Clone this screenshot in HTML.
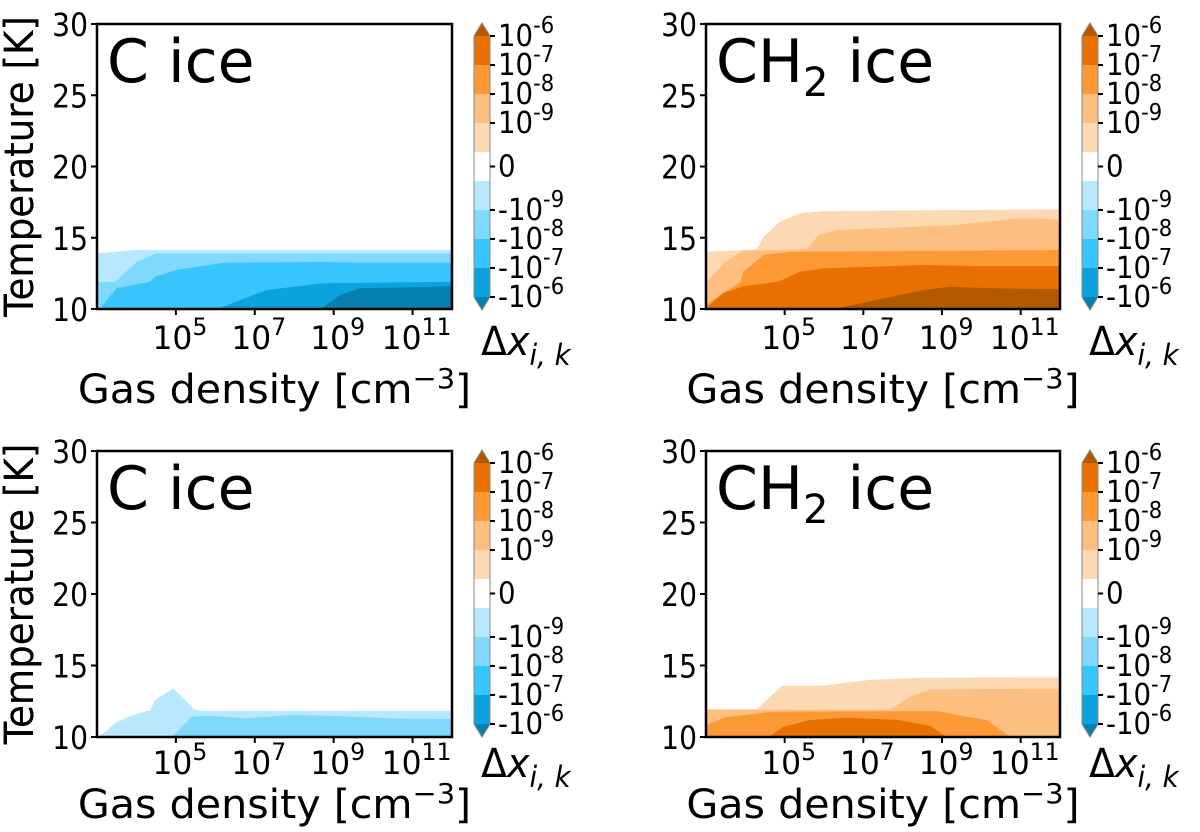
<!DOCTYPE html>
<html><head><meta charset="utf-8"><style>
html,body{margin:0;padding:0;background:#fff;width:1200px;height:832px;overflow:hidden}
svg text{font-family:"DejaVu Sans","Liberation Sans",sans-serif;fill:#000}
</style></head><body>
<svg id="fig" width="1200" height="832" viewBox="0 0 1200 832" xmlns="http://www.w3.org/2000/svg"></svg>
<script>
// Levels/colours (positive orange, negative blue)
const levelColorsPos = ["#fdd9b3","#fdbf7f","#fd9935","#e87000","#b35900"];
const levelColorsNeg = ["#b8e8fd","#80d8fc","#38c4fc","#0aa3e0","#0780b0"];
const xTickExp = [5,7,9,11];
const yTicks = [10,15,20,25,30];
const cbTopLabels = ["-6","-7","-8","-9"];
const cbBotLabels = ["-9","-8","-7","-6"];

// Panel A (top-left, C ice): boundaries (log n, T)
const a1x=[3,4,12], a1T=[13.9,14.15,14.15];
const a2x=[3,3.46,4.0,4.5,12], a2T=[11.9,11.9,13.3,13.9,13.9];
const a3x=[3.08,3.5,4.35,4.47,5.02,6.2,8.74,9.59,12], a3T=[10.05,11.45,11.92,12.27,12.74,13.25,13.3,13.25,13.25];
const a4x=[6.04,7.31,8.74,12], a4T=[10,11.33,11.8,11.9];
const a5x=[8.66,9.17,9.67,12], a5T=[10,10.98,11.45,11.6];
// Panel B (top-right, CH2 ice)
const b1x=[3,4.29,4.46,4.88,5.39,5.98,12], b1T=[14.02,14.19,15.07,16.13,16.71,16.88,17.0];
const b2x=[3,3.48,3.95,5.56,5.86,6.33,9.38,10.9,11.58,12], b2T=[11.8,13.32,14.1,14.19,15.19,15.54,15.9,16.36,16.36,16.25];
const b3x=[3,3.48,3.87,3.95,4.46,5.14,12], b3T=[10.28,11.22,11.85,12.62,13.79,14.02,14.14];
const b4x=[3,3.44,3.95,4.84,5.39,5.98,8.53,9.8,12], b4T=[10.05,11.1,11.6,11.92,12.62,12.85,13.09,13.02,13.02];
const b5x=[6.34,8.53,9.21,10.23,12], b5T=[10.05,11.33,11.57,11.45,11.38];
// Panel C (bottom-left, C ice)
const c1x=[3.05,3.5,3.92,4.35,4.47,4.94,5.44,5.61,12], c1T=[10,11.07,11.54,11.89,12.59,13.4,12.0,11.84,11.84];
const c2x=[4.9,5.4,5.8,6.8,7.9,9.08,10.44,12], c2T=[10,11.42,11.5,11.3,11.54,11.47,11.3,11.26];
// Panel D (bottom-right, CH2 ice)
const d1x=[3,4.29,4.93,5.9,7.17,8.53,12], d1T=[11.94,11.94,13.59,13.59,13.99,14.15,14.18];
const d2x=[3,7.68,8.19,8.7,12], d2T=[11.9,11.9,12.82,13.33,13.38];
const d3x=[3,3.48,4.71,8.87,9.63,10.14,10.73], d3T=[10.84,11.38,11.77,11.82,11.42,11.19,10.02];
const d4x=[4.59,4.97,5.65,6.58,7.85,8.7,9.12], d4T=[10,10.72,11.19,11.35,11.2,10.77,10];

const NS="http://www.w3.org/2000/svg";
const fig=document.getElementById('fig');
function mk(tag,attrs,parent){const e=document.createElementNS(NS,tag);for(const k in attrs)e.setAttribute(k,attrs[k]);(parent||fig).appendChild(e);return e;}
function txt(parent,x,y,size,sx,anchor,html,rot){
 const t=mk('text',{x:0,y:0,'font-size':size,'text-anchor':anchor,transform:`translate(${x},${y})`+(rot?` rotate(${rot})`:'')+` scale(${sx},1)`},parent);
 t.innerHTML=html;return t;
}

const panels=[
 {ox:97,oy:24,w:355,h:285,tk:40,xo:94,dlo:46,title:"C ice",sub:false,bounds:[[a1x,a1T],[a2x,a2T],[a3x,a3T],[a4x,a4T],[a5x,a5T]],cols:levelColorsNeg,name:"panel-top-left"},
 {ox:706,oy:24,w:354,h:285,tk:40,xo:94,dlo:46,title:"CH",sub:true,bounds:[[b1x,b1T],[b2x,b2T],[b3x,b3T],[b4x,b4T],[b5x,b5T]],cols:levelColorsPos,name:"panel-top-right"},
 {ox:97,oy:451,w:355,h:286,tk:37,xo:81,dlo:40,title:"C ice",sub:false,bounds:[[c1x,c1T],[c2x,c2T]],cols:levelColorsNeg,name:"panel-bottom-left"},
 {ox:706,oy:451,w:354,h:286,tk:37,xo:81,dlo:40,title:"CH",sub:true,bounds:[[d1x,d1T],[d2x,d2T],[d3x,d3T],[d4x,d4T]],cols:levelColorsPos,name:"panel-bottom-right"}
];

panels.forEach(p=>{
 const g=mk('g',{});
 
 
 const xs=v=>p.ox+(v-3)/9*p.w;
 const ys=v=>p.oy+p.h-(v-10)/20*p.h;
 p.bounds.forEach((b,i)=>{
  const [bx,bT]=b;
  let pts=[[xs(bx[0]),ys(10)]];
  for(let j=0;j<bx.length;j++)pts.push([xs(bx[j]),ys(bT[j])]);
  pts.push([xs(bx[bx.length-1]),ys(10)]);
  const poly=mk('polygon',{points:pts.map(q=>q[0].toFixed(1)+','+q[1].toFixed(1)).join(' '),fill:p.cols[i]},g);
  
  
 });
 const fr=mk('rect',{x:p.ox,y:p.oy,width:p.w,height:p.h,fill:'none',stroke:'#000','stroke-width':2.5},g);
 
 
 yTicks.forEach(t=>{
  const y=ys(t);
  mk('line',{x1:p.ox-6,x2:p.ox,y1:y,y2:y,stroke:'#000','stroke-width':2},g);
  const tx=txt(g,p.ox-9,y+12,32,0.88,'end',String(t));
  
  
 });
 xTickExp.forEach(e=>{
  const x=xs(e);
  mk('line',{x1:x,x2:x,y1:p.oy+p.h,y2:p.oy+p.h+6,stroke:'#000','stroke-width':2},g);
  const tx=txt(g,x+4,p.oy+p.h+p.tk,32,0.98,'middle','10<tspan dy="-14" font-size="24">'+e+'</tspan>');
  
  
 });
 const yl=txt(g,33,p.oy+p.h/2,40,0.93,'middle','Temperature [K]',-90);
 
 
 const xl=txt(g,p.ox+p.w/2,p.oy+p.h+p.xo,40,1.03,'middle','Gas density [cm<tspan dy="-15" font-size="28">−3</tspan><tspan dy="15">]</tspan>');
 
 
 const tl=mk('text',{x:p.ox+10,y:p.oy+58,'font-size':60},g);
 tl.innerHTML=p.sub?'CH<tspan dy="14" font-size="40">2</tspan><tspan dy="-14"> ice</tspan>':'C ice';
 
 
 // colorbar
 const cx=p.ox+p.w+22, cw=16, top=p.oy+12, step=29;
 const cb=mk('g',{},g);
 
 
 mk('polygon',{points:`${cx},${top} ${cx+cw},${top} ${cx+cw/2},${top-13}`,fill:levelColorsPos[4]},cb);
 const segCols=[levelColorsPos[3],levelColorsPos[2],levelColorsPos[1],levelColorsPos[0],'#ffffff',levelColorsNeg[0],levelColorsNeg[1],levelColorsNeg[2],levelColorsNeg[3]];
 segCols.forEach((c,i)=>mk('rect',{x:cx,y:top+i*step,width:cw,height:step+0.5,fill:c},cb));
 const bot=top+9*step;
 mk('polygon',{points:`${cx},${bot} ${cx+cw},${bot} ${cx+cw/2},${bot+13}`,fill:levelColorsNeg[4]},cb);
 mk('polygon',{points:`${cx},${top} ${cx+cw/2},${top-13} ${cx+cw},${top} ${cx+cw},${bot} ${cx+cw/2},${bot+13} ${cx},${bot}`,fill:'none',stroke:'#888','stroke-width':1},cb);
 const tickYs=[top,top+step,top+2*step,top+3*step,top+4.5*step,top+6*step,top+7*step,top+8*step,top+9*step];
 const labs=cbTopLabels.map(e=>'10<tspan dy="-13" font-size="23">'+e+'</tspan>').concat(['0']).concat(cbBotLabels.map(e=>'-10<tspan dy="-13" font-size="23">'+e+'</tspan>'));
 tickYs.forEach((y,i)=>{
  mk('line',{x1:cx+cw,x2:cx+cw+5,y1:y,y2:y,stroke:'#000','stroke-width':2},cb);
  const t=txt(cb,cx+cw+8,y+10,30,0.92,'start',labs[i]);
  
  
 });
 const dl=txt(g,cx+7,p.oy+p.h+p.dlo,40,0.95,'start','Δ<tspan font-style="italic">x</tspan><tspan dy="10" font-size="29" font-style="italic">i, k</tspan>');
 
 
});
</script>
</body></html>
